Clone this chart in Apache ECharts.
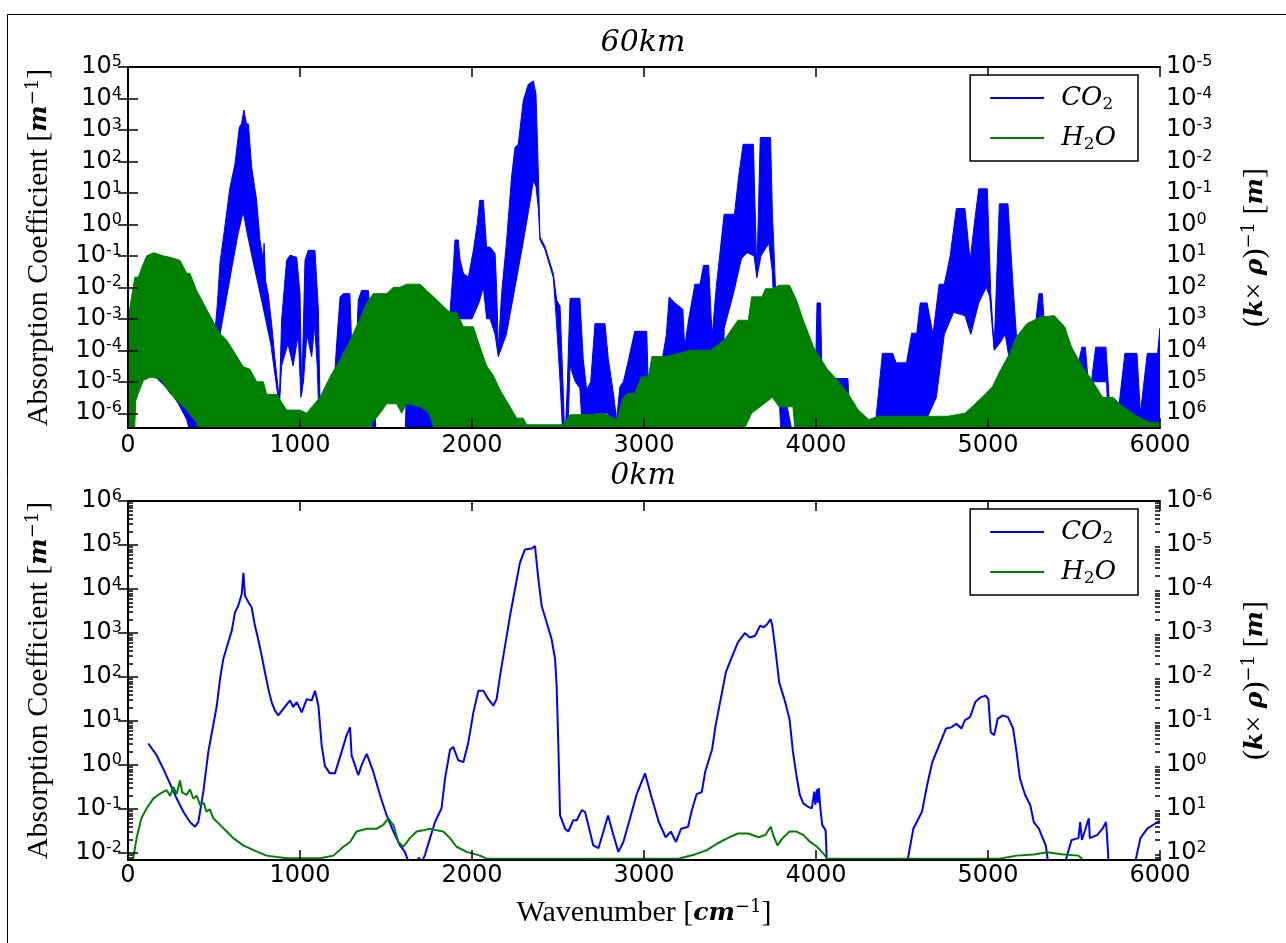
<!DOCTYPE html>
<html><head><meta charset="utf-8">
<script src="https://cdn.jsdelivr.net/npm/echarts@6/dist/echarts.min.js"></script>
<style>html,body{margin:0;padding:0;background:#fff}#c{width:1286px;height:943px}</style>
</head><body><div id="c"></div><script>
// ---------- data ----------
const xTicks = [0, 1000, 2000, 3000, 4000, 5000, 6000];
const topDecades = [1e-6, 1e-5, 1e-4, 1e-3, 1e-2, 1e-1, 1e0, 1e1, 1e2, 1e3, 1e4, 1e5];
const bottomDecades = [1e-2, 1e-1, 1e0, 1e1, 1e2, 1e3, 1e4, 1e5, 1e6];
const minorMultipliers = [2, 3, 4, 5, 6, 7, 8, 9];

// 60 km, CO2 band (dense line spectrum drawn as envelope)
const co2TopUpperX = [100,200,300,450,490,506,520,535,560,593,622,647,660,674,688,700,719,748,767,787,791,800,815,835,855,880,893,922,942,981,1000,1010,1029,1048,1087,1107,1116,1130,1155,1175,1200,1213,1233,1252,1290,1300,1320,1339,1358,1397,1407,1420,1445,1610,1620,1700,1814,1850,1872,1890,1901,1920,1930,1950,1979,2008,2030,2045,2066,2085,2105,2134,2143,2153,2172,2200,2230,2250,2269,2298,2327,2357,2372,2386,2395,2424,2473,2492,2512,2531,2540,2555,2570,2627,2647,2667,2690,2715,2773,2793,2822,2841,2860,2880,2910,2946,3016,3026,3060,3100,3130,3146,3180,3226,3236,3260,3296,3326,3346,3376,3396,3420,3466,3526,3550,3576,3636,3656,3676,3736,3746,3766,3776,3800,3840,3876,3990,4000,4006,4026,4036,4066,4186,4200,4340,4346,4386,4446,4466,4526,4556,4586,4606,4646,4680,4716,4746,4780,4816,4866,4896,4920,4946,4996,5016,5036,5066,5116,5146,5166,5200,5250,5296,5316,5336,5400,5500,5546,5566,5590,5626,5686,5706,5750,5796,5866,5886,5926,5986,6000];
const co2TopUpper = [3.2e-4,1.6e-4,1e-4,1e-4,2.5e-4,4e-4,3.2e-3,6.3e-2,0.63,15,83,1200,1600,4300,1600,1550,65,5.8,0.32,0.072,0.25,0.016,6.3e-3,7e-4,5e-5,2.6e-6,9e-4,0.072,0.105,0.09,6.3e-3,4.3e-6,0.072,0.15,0.15,1.9e-3,2.6e-6,1e-7,1e-7,3.2e-6,1.26e-5,1.6e-4,5e-3,6.3e-3,6.3e-3,1.6e-4,1.26e-5,4e-3,8e-3,8e-3,2.5e-3,1e-4,1e-7,1e-7,1e-5,3.2e-6,3.2e-7,3.2e-5,1.6e-3,3.2e-2,0.32,0.32,0.08,0.028,0.021,0.15,1,5.8,5.8,0.19,0.19,0.12,0.01,1e-4,6.3e-3,0.25,32,280,350,8500,28000,36000,14000,40,0.4,0.2,0.027,4e-3,2.5e-3,4e-6,1e-7,1e-5,4.5e-3,4.5e-3,5e-5,5.5e-6,1e-5,7e-4,7e-4,5e-5,4.3e-6,6.3e-7,7e-6,1e-5,5e-5,4e-4,4e-4,4e-6,6.3e-5,3.2e-5,3.2e-4,5e-3,3.2e-3,2e-3,1.26e-4,1e-3,0.0126,0.0126,0.05,0.05,2.7e-4,0.01,2.1,2.1,32,350,350,0.028,575,575,2.75,6.3e-3,5e-5,1e-5,1e-6,1e-7,1e-7,1e-4,3.2e-3,3.2e-3,1e-5,1.26e-5,1.26e-5,1e-7,1e-7,5e-7,8e-5,8e-5,4e-5,4e-5,3.5e-4,3.5e-4,3.2e-3,3.2e-3,3.2e-4,0.0126,0.0126,0.1,3.2,3.2,0.072,1,13.5,13.5,6.3e-3,1.26e-4,4.5,4.5,0.01,2.7e-4,3.2e-5,3.2e-5,6.3e-3,6.3e-3,1.26e-4,6.3e-5,1e-5,1.26e-4,1.26e-4,3.2e-6,1.26e-4,1.26e-4,2e-6,5e-7,8e-5,8e-5,1e-6,8e-5,8e-5,5e-4];
const co2TopLowerX = [100,150,244,293,341,380,510,535,600,640,670,690,720,780,830,870,880,893,930,960,990,1005,1020,1040,1068,1085,1100,1116,1205,1220,1250,1290,1310,1340,1380,1407,1425,1850,1900,1950,2000,2040,2066,2085,2105,2134,2153,2200,2250,2300,2340,2357,2372,2386,2395,2424,2473,2490,2512,2531,2555,2570,2600,2627,2647,2700,2715,2790,2800,2930,2946,3016,3026,3460,3466,3520,3566,3600,3640,3656,3680,3726,3746,3756,3776,3800,4380,4386,4650,4700,4746,4800,4866,4900,4946,4990,5010,5036,5066,5100,5130,5166,5530,5546,5690,5700,6000];
const co2TopLower = [2.5e-5,1.6e-5,5e-6,2e-6,6.3e-7,1e-7,1e-7,3.2e-4,0.032,0.5,2.5,0.63,0.1,3.2e-3,1.6e-4,4e-6,1.6e-6,3.2e-5,1.6e-4,3.2e-5,3.2e-4,3.2e-6,1e-5,3.2e-4,6.3e-5,6.3e-4,3.2e-5,1e-7,1e-7,3.2e-6,1e-4,3.2e-5,3.2e-6,3.2e-5,1.6e-4,3.2e-5,1e-7,1e-7,1e-3,1e-3,1e-3,3.2e-3,0.01,1e-3,1e-3,3.2e-4,6.3e-5,3.2e-4,0.01,0.32,6.3,25,16,3.2,0.32,0.16,0.02,1e-3,1e-5,1e-7,1e-7,3.2e-5,1e-5,6.3e-6,1e-7,1e-7,1e-6,1e-6,1e-7,1e-7,3.2e-6,3.2e-6,1e-7,1e-7,5e-4,6.3e-3,0.08,0.126,0.1,0.02,0.1,0.25,0.032,1.6e-3,3.2e-5,1e-7,1e-7,8e-7,8e-7,3.2e-6,3.2e-4,1.6e-3,1.26e-3,3.2e-4,3.2e-3,0.01,5e-3,1e-4,1.6e-4,3.2e-4,3.2e-5,1e-7,1e-7,1e-5,1e-5,1e-7,1e-7];

// 60 km, H2O band
const h2oTopUpperX = [0,12,40,60,89,109,150,205,244,302,341,360,399,457,496,535,574,622,670,709,748,787,806,864,922,1000,1039,1116,1174,1233,1290,1349,1388,1426,1504,1543,1581,1620,1698,1736,1795,1833,1872,1910,1950,2008,2047,2085,2124,2163,2221,2260,2298,2318,2531,2570,2705,2764,2841,2880,2906,2946,2986,3026,3046,3126,3206,3266,3386,3466,3546,3606,3626,3686,3706,3746,3786,3846,3886,3926,3986,4066,4126,4186,4246,4306,4366,4766,4866,4966,5026,5066,5126,5166,5226,5306,5386,5446,5486,5546,5606,5666,5726,5786,5866,5946,6000];
const h2oTopUpper = [1e-3,2.5e-3,0.021,0.021,0.056,0.1,0.126,0.1,0.09,0.072,0.028,0.028,8e-3,2e-3,8e-4,3.4e-4,2.1e-4,8e-5,3e-5,2.5e-5,1e-5,1e-5,4e-6,4e-6,1.26e-6,1.26e-6,1e-6,3.2e-6,1.4e-5,5e-5,2e-4,1e-3,3.2e-3,6.3e-3,6.3e-3,0.01,0.01,0.0126,0.0126,8e-3,4e-3,2.5e-3,1.6e-3,1.6e-3,5.6e-4,5.6e-4,1.26e-4,3.2e-5,1.6e-5,5.5e-6,1.6e-6,7e-7,7e-7,4.3e-7,4.3e-7,9e-7,9e-7,1e-6,6.3e-7,3.2e-6,4.3e-6,4.3e-6,1.45e-5,1.45e-5,6.3e-5,6.3e-5,8e-5,1e-4,1e-4,2.1e-4,9e-4,9e-4,5e-3,5e-3,9e-3,9e-3,0.0117,0.0117,4e-3,9e-4,1.26e-4,2.5e-5,1.1e-5,4.3e-6,1.26e-6,6.3e-7,8e-7,8e-7,1e-6,3.2e-6,7e-6,2e-5,8e-5,2.7e-4,7e-4,1.15e-3,1.26e-3,5.6e-4,1.26e-4,3.2e-5,1.1e-5,3.2e-6,3.2e-6,1.6e-6,8e-7,5e-7,5e-7];
const h2oTopLowerX = [0,35,45,60,89,128,186,244,341,399,430,1380,1420,1465,1504,1562,1591,1620,1700,1750,1814,3540,3626,3746,3786,3866,3886,6000];
const h2oTopLower = [1e-7,1e-7,2.5e-6,4.3e-6,1.1e-5,1.4e-5,1.26e-5,4.3e-6,1.26e-6,5e-7,1e-7,1e-7,5e-7,1e-6,2e-6,2e-6,1e-6,2e-6,1.6e-6,1e-6,1e-7,1e-7,1e-6,3.2e-6,1.6e-6,1.6e-6,1e-7,1e-7];

// 0 km, CO2 line
const co2BottomX = [118,167,205,244,283,322,360,390,409,438,467,486,516,535,554,583,603,622,641,661,671,680,700,719,738,757,777,796,816,835,855,874,903,942,961,981,1010,1039,1068,1087,1107,1126,1145,1174,1203,1242,1271,1291,1300,1339,1358,1388,1426,1465,1504,1543,1581,1610,1640,1665,1690,1710,1727,1756,1785,1823,1843,1872,1891,1920,1950,1979,2008,2037,2066,2095,2124,2143,2163,2192,2221,2250,2279,2308,2347,2366,2386,2405,2434,2463,2483,2492,2502,2512,2541,2560,2589,2609,2638,2657,2676,2705,2735,2764,2791,2822,2851,2880,2919,2956,3006,3046,3086,3126,3156,3186,3216,3256,3276,3306,3336,3356,3396,3416,3446,3476,3506,3546,3586,3616,3646,3676,3696,3716,3736,3746,3766,3786,3816,3846,3866,3886,3906,3926,3956,3976,3990,3996,4006,4011,4016,4026,4036,4056,4066,4500,4526,4566,4616,4646,4676,4716,4756,4786,4816,4846,4866,4896,4926,4956,4986,5002,5016,5036,5056,5086,5116,5146,5166,5186,5216,5246,5266,5296,5316,5336,5356,5440,5456,5486,5526,5536,5546,5586,5592,5636,5666,5686,5692,5706,5840,5856,5886,5926,5986,6000];
const co2Bottom = [3.1,1.66,0.83,0.38,0.174,0.087,0.051,0.04,0.051,0.25,2.0,5.1,22,91,257,617,1120,2950,4170,7590,23400,7080,5010,3800,1480,724,309,129,54,27,17,13.5,19,29.5,21,27,15.8,31.6,29.5,49,22.4,2.8,0.95,0.65,0.65,2.0,4.8,7.2,1.66,0.59,1.0,1.8,0.71,0.21,0.072,0.031,0.015,0.0107,0.005,0.003,0.0079,0.0063,0.0093,0.022,0.051,0.105,0.49,2.2,2.6,1.29,1.17,3.3,15.8,49,49,31.6,22.4,31.6,107,513,2450,10000,39800,79400,83000,95500,16600,4170,1740,724,257,65,2.8,0.072,0.036,0.031,0.056,0.056,0.095,0.087,0.044,0.015,0.013,0.031,0.072,0.026,0.0107,0.018,0.062,0.21,0.65,0.174,0.051,0.023,0.031,0.018,0.036,0.04,0.087,0.22,0.245,0.71,2.3,7.9,31.6,129,257,617,1000,794,871,1480,1350,1580,2090,1480,363,76,31.6,11.2,2.0,0.59,0.21,0.135,0.112,0.105,0.25,0.126,0.28,0.14,0.3,0.1,0.044,0.033,0.003,0.003,0.005,0.036,0.087,0.35,1.17,2.8,6.8,7.2,8.7,6.8,10.5,12.3,27,34.7,38,31.6,5.6,4.8,11.2,13.5,12.3,6.8,2.0,0.49,0.21,0.123,0.051,0.036,0.023,0.015,0.004,0.004,0.0079,0.02,0.022,0.051,0.02,0.062,0.022,0.026,0.036,0.051,0.025,0.003,0.003,0.0063,0.022,0.036,0.051,0.054];

// 0 km, H2O line
const h2oBottomX = [0,31,50,78,109,147,186,225,245,264,283,302,315,341,360,380,400,419,440,457,475,496,535,574,612,670,729,806,922,1116,1194,1252,1291,1329,1388,1446,1484,1514,1530,1543,1572,1601,1639,1678,1717,1756,1795,1833,1872,1910,1969,2047,2085,3200,3300,3366,3426,3486,3546,3606,3666,3706,3736,3756,3776,3806,3846,3886,3926,3966,4006,4046,4066,5066,5166,5266,5346,5426,5526,5566,6000];
const h2oBottom = [0.003,0.0079,0.022,0.062,0.105,0.174,0.224,0.27,0.2,0.32,0.22,0.45,0.24,0.21,0.28,0.174,0.2,0.123,0.14,0.087,0.1,0.062,0.044,0.031,0.022,0.015,0.0117,0.0088,0.0077,0.0077,0.0088,0.014,0.018,0.031,0.036,0.036,0.044,0.062,0.05,0.044,0.018,0.014,0.022,0.031,0.033,0.036,0.033,0.031,0.022,0.014,0.0107,0.0088,0.0075,0.0075,0.0095,0.0117,0.0166,0.022,0.028,0.028,0.023,0.026,0.04,0.023,0.015,0.022,0.031,0.031,0.026,0.018,0.014,0.0095,0.0075,0.0075,0.0088,0.0093,0.0105,0.0095,0.0088,0.0063,0.0063];

// ---------- chart ----------
const BLUE = '#0000ff', GREEN = '#008000';
const bottomMinor = [];
[1e-3].concat(bottomDecades).forEach(d => minorMultipliers.forEach(m => { const v = m * d; if (v >= 7e-3 && v <= 1e6) bottomMinor.push(v); }));

const expOf = v => Math.round(Math.log10(v));
const tickRich = {
  b: {fontFamily: 'DejaVu Sans', fontSize: 24, lineHeight: 26, color: '#000'},
  s: {fontFamily: 'DejaVu Sans', fontSize: 16, lineHeight: 12, verticalAlign: 'top', color: '#000'}
};
const leftFmt = v => '{b|10}{s|' + expOf(v) + '}';
const rightFmt = v => '{b|10}{s|' + String(-expOf(v)) + '}';
const lineSt = {color: '#000', width: 2};
const tickSt = {color: '#000', width: 1.5};
const nameRich = {
  r: {fontFamily: 'Liberation Serif', fontSize: 30, color: '#000'},
  bi: {fontFamily: 'DejaVu Serif', fontStyle: 'italic', fontWeight: 'bold', fontSize: 25, color: '#000'},
  sup: {fontFamily: 'DejaVu Serif', fontSize: 18, lineHeight: 14, verticalAlign: 'top', color: '#000'}
};
const nameStyle = {fontFamily: 'Liberation Serif', fontSize: 30, color: '#000', rich: nameRich};

function xAxes(grid, withName) {
  const base = {type: 'value', gridIndex: grid, min: 0, max: 6000, interval: 1000, z: 5,
    axisLine: {lineStyle: lineSt}, splitLine: {show: false}};
  return [
    Object.assign({}, base, {position: 'bottom',
      axisTick: {inside: true, length: 10, lineStyle: tickSt, customValues: xTicks},
      axisLabel: {color: '#000', fontFamily: 'DejaVu Sans', fontSize: 24, margin: grid === 0 ? 6 : 4,
        customValues: xTicks, formatter: v => String(v)},
      name: withName ? 'Wavenumber [{bi|cm}{sup|−1}]' : '', nameLocation: 'middle', nameGap: 38, nameTextStyle: nameStyle}),
    Object.assign({}, base, {position: 'top',
      axisTick: {inside: true, length: 10, lineStyle: tickSt}, axisLabel: {show: false}})
  ];
}
function yAxes(grid, min, max, majors, minors) {
  const base = {type: 'log', logBase: 10, gridIndex: grid, min, max, z: 5,
    axisLine: {lineStyle: lineSt}, splitLine: {show: false}, minorTick: {show: false}};
  const arr = [
    Object.assign({}, base, {position: 'left',
      axisTick: {inside: true, length: 10, lineStyle: tickSt, customValues: majors},
      axisLabel: {formatter: leftFmt, rich: tickRich, margin: 6, customValues: majors},
      name: 'Absorption Coefficient [{bi|m}{sup|−1}]', nameLocation: 'middle', nameRotate: 90, nameGap: 74, nameTextStyle: nameStyle}),
    Object.assign({}, base, {position: 'right',
      axisTick: {inside: true, length: 10, lineStyle: tickSt, customValues: majors},
      axisLabel: {formatter: rightFmt, rich: tickRich, margin: 6, customValues: majors},
      name: '({bi|k}× {bi|ρ}){sup|−1} [{bi|m}]', nameLocation: 'middle', nameRotate: 90, nameGap: 80, nameTextStyle: nameStyle})
  ];
  if (minors) {
    ['left', 'right'].forEach(p => arr.push(Object.assign({}, base, {position: p,
      axisLine: {show: false},
      axisTick: {inside: true, length: 5, lineStyle: tickSt, customValues: minors},
      axisLabel: {show: false}})));
  }
  return arr;
}

function band(name, color, ux, uy, lx, ly, xi, yi) {
  return {
    type: 'custom', name, xAxisIndex: xi, yAxisIndex: yi, clip: true, animation: false,
    data: ux.map((x, i) => [x, uy[i]]), encode: {x: 0, y: 1}, itemStyle: {color},
    renderItem: (params, api) => {
      if (params.dataIndex !== 0) return null;
      const pts = [];
      for (let i = 0; i < ux.length; i++) pts.push(api.coord([ux[i], uy[i]]));
      for (let i = lx.length - 1; i >= 0; i--) pts.push(api.coord([lx[i], ly[i]]));
      return {type: 'polygon', shape: {points: pts}, style: {fill: color, stroke: color, lineWidth: 1}};
    }
  };
}
function line(name, color, xs, ys, xi, yi) {
  return {type: 'line', name, xAxisIndex: xi, yAxisIndex: yi, data: xs.map((x, i) => [x, ys[i]]),
    showSymbol: false, symbol: 'none', clip: true, animation: false,
    lineStyle: {color, width: 2}, itemStyle: {color}};
}
const legRich = {
  mf: {fontFamily: 'DejaVu Serif', fontStyle: 'italic', fontSize: 26, lineHeight: 30, color: '#000', padding: [0, 0, 0, 12]},
  m: {fontFamily: 'DejaVu Serif', fontStyle: 'italic', fontSize: 26, lineHeight: 30, color: '#000'},
  sub: {fontFamily: 'DejaVu Serif', fontSize: 17, lineHeight: 10, verticalAlign: 'bottom', color: '#000'}
};
function legend(top) {
  return {orient: 'vertical', right: 148, top, padding: [8, 22, 8, 20], itemGap: 10, itemWidth: 54, itemHeight: 2,
    borderColor: '#000', borderWidth: 1.5, backgroundColor: '#fff', selectedMode: false, z: 10,
    data: [{name: 'CO2', icon: 'rect', itemStyle: {color: BLUE}}, {name: 'H2O', icon: 'rect', itemStyle: {color: GREEN}}],
    formatter: n => n === 'CO2' ? '{mf|CO}{sub|2}' : '{mf|H}{sub|2}{m|O}',
    textStyle: {rich: legRich, lineHeight: 30}};
}
const titleStyle = {fontFamily: 'DejaVu Serif', fontStyle: 'italic', fontWeight: 'normal', fontSize: 30, color: '#000'};

const chart = echarts.init(document.getElementById('c'), null, {renderer: 'canvas'});
chart.setOption({
  animation: false,
  backgroundColor: '#fff',
  title: [
    {text: '60km', left: 'center', top: 28, padding: 0, textStyle: titleStyle},
    {text: '0km', left: 'center', top: 461, padding: 0, textStyle: titleStyle}
  ],
  grid: [
    {left: 128, right: 126, top: 67, height: 361},
    {left: 128, right: 126, top: 501, height: 359}
  ],
  xAxis: xAxes(0, false).concat(xAxes(1, true)),
  yAxis: yAxes(0, 3.4e-7, 1e5, topDecades, null).concat(yAxes(1, 7e-3, 1e6, bottomDecades, bottomMinor)),
  legend: [legend(75), legend(509)],
  series: [
    band('CO2', BLUE, co2TopUpperX, co2TopUpper, co2TopLowerX, co2TopLower, 0, 0),
    band('H2O', GREEN, h2oTopUpperX, h2oTopUpper, h2oTopLowerX, h2oTopLower, 0, 0),
    line('CO2', BLUE, co2BottomX, co2Bottom, 2, 2),
    line('H2O', GREEN, h2oBottomX, h2oBottom, 2, 2)
  ],
  graphic: [
    {type: 'line', shape: {x1: 7, y1: 14.5, x2: 1290, y2: 14.5}, style: {stroke: '#000', lineWidth: 1}, silent: true},
    {type: 'line', shape: {x1: 7.5, y1: 14, x2: 7.5, y2: 943}, style: {stroke: '#000', lineWidth: 1}, silent: true}
  ]
});
</script></body></html>
